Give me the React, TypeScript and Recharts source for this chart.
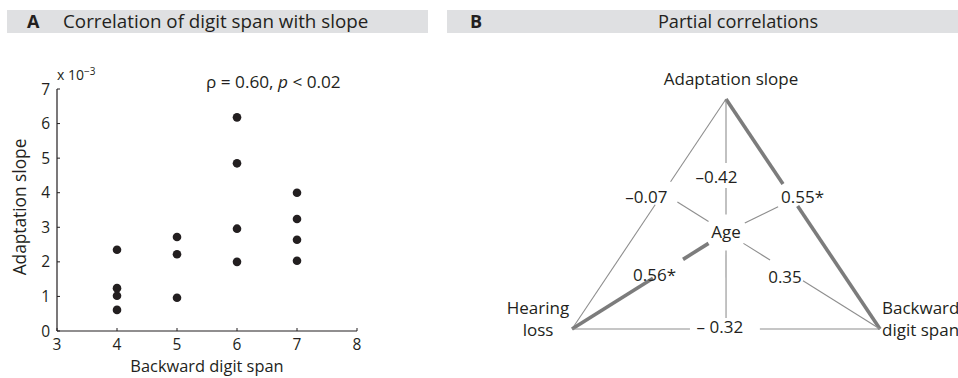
import React from 'react';
import { ScatterChart, Scatter, XAxis, YAxis, ReferenceLine, Label } from 'recharts';

const FONT = '"Open Sans", "Noto Sans", sans-serif';
const INK = '#231f20';
const BAND = '#dfe0e2';
const THIN_GREY = '#8e8e8e';
const THICK_GREY = '#7c7c7c';

// ---------- Panel A: backward digit span vs adaptation slope (x 10^-3) ----------
const spanValues = [4, 5, 6, 7];
const slopesAtSpan4 = [2.35, 1.24, 1.02, 0.61];
const slopesAtSpan5 = [2.72, 2.22, 0.96];
const slopesAtSpan6 = [6.18, 4.85, 2.96, 2.0];
const slopesAtSpan7 = [4.0, 3.24, 2.64, 2.03];
const spanTicks = [3, 4, 5, 6, 7, 8];
const slopeTicks = [0, 1, 2, 3, 4, 5, 6, 7];
const rhoText = '0.60';
const pBoundText = '0.02';

const slopeGroups = [slopesAtSpan4, slopesAtSpan5, slopesAtSpan6, slopesAtSpan7];
const scatterPoints = spanValues.flatMap((span, i) =>
  slopeGroups[i].map((slope) => ({ span, slope }))
);

// ---------- Panel B: partial correlations between four variables ----------
const variables = ['Adaptation slope', 'Hearing loss', 'Backward digit span', 'Age'];
const edgeFrom = [0, 0, 0, 3, 3, 1];
const edgeTo = [1, 2, 3, 1, 2, 2];
const partialR = [-0.07, 0.55, -0.42, 0.56, 0.35, -0.32];
const significant = [false, true, false, true, false, false];

// diagram layout (triangle units: x 0 = left corner, 1 = right corner; y 0 = base, 1 = apex)
const AGE = 3;
const nodeX = [0.5, 0, 1, 0.5];
const nodeY = [1, 0, 0, 0.42];
const CHART_B_W = 518;
const CHART_B_H = 378;
const TRI_LEFT = 132; // left corner, px from chart edge
const TRI_TOP = 99; // apex, px from chart top
const PLOT_W = 308; // triangle base width in px
const PLOT_H = 230; // triangle height in px
// label placement per edge: fraction along edge, pixel nudge, gap in the line, spoke from Age
const edgeLayout = [
  { t: 0.426, dx: -14, dy: 0, gap: [0.36, 0.46], spoke: [31, 5], spaced: false },
  { t: 0.426, dx: 11, dy: 0, gap: [0.37, 0.465], spoke: [-24.5, 9.7], spaced: false },
  { t: 0.585, dx: -9.5, dy: 0, gap: [0.48, 0.667], spoke: null, spaced: false },
  { t: 0.464, dx: 0, dy: -2, gap: [0.279, 0.474], spoke: null, spaced: false },
  { t: 0.383, dx: 0, dy: 7.6, gap: [0.286, 0.5], spoke: null, spaced: false },
  { t: 0.48, dx: 0, dy: -2, gap: [0.383, 0.61], spoke: [6.2, -9], spaced: true },
];
const nodeLabelLayout = [
  { dx: 5, dy: -20, anchor: 'middle', breakAt: 0 },
  { dx: -34, dy: -21, anchor: 'middle', breakAt: 1 },
  { dx: 2, dy: -21, anchor: 'start', breakAt: 1 },
  { dx: 0, dy: 0, anchor: 'middle', breakAt: 0 },
];
const AGE_RX = 22;
const AGE_RY = 18;

// axis domains that make the whole chart area one coordinate space
const xDomainB = [-TRI_LEFT / PLOT_W, (CHART_B_W - TRI_LEFT) / PLOT_W];
const yDomainB = [1 - (CHART_B_H - TRI_TOP) / PLOT_H, 1 + TRI_TOP / PLOT_H];

type P = { x: number; y: number };
const nodePx = (i: number): P => ({ x: nodeX[i] * PLOT_W, y: (1 - nodeY[i]) * PLOT_H });
const toData = (p: P) => ({ x: p.x / PLOT_W, y: 1 - p.y / PLOT_H });
const lerp = (a: P, b: P, t: number): P => ({ x: a.x + (b.x - a.x) * t, y: a.y + (b.y - a.y) * t });
const trimAtAge = (age: P, other: P): P => {
  const vx = other.x - age.x;
  const vy = other.y - age.y;
  const len = Math.hypot(vx, vy);
  const ux = vx / len;
  const uy = vy / len;
  const r = 1 / Math.sqrt((ux / AGE_RX) ** 2 + (uy / AGE_RY) ** 2);
  return { x: age.x + ux * r, y: age.y + uy * r };
};
const formatR = (r: number, sig: boolean, spaced: boolean) =>
  (r < 0 ? (spaced ? '\u2013 ' : '\u2013') : '') + Math.abs(r).toFixed(2) + (sig ? '*' : '');

const edgeLabelPx = (i: number): P => {
  const a = nodePx(edgeFrom[i]);
  const b = nodePx(edgeTo[i]);
  const p = lerp(a, b, edgeLayout[i].t);
  return { x: p.x + edgeLayout[i].dx, y: p.y + edgeLayout[i].dy };
};

type Seg = { from: P; to: P; thick: boolean };
const buildSegments = (): Seg[] => {
  const segs: Seg[] = [];
  partialR.forEach((_, i) => {
    const a = nodePx(edgeFrom[i]);
    const b = nodePx(edgeTo[i]);
    const start = edgeFrom[i] === AGE ? trimAtAge(a, b) : a;
    const end = edgeTo[i] === AGE ? trimAtAge(b, a) : b;
    const [g0, g1] = edgeLayout[i].gap;
    segs.push({ from: start, to: lerp(a, b, g0), thick: significant[i] });
    segs.push({ from: lerp(a, b, g1), to: end, thick: significant[i] });
    const spoke = edgeLayout[i].spoke;
    if (spoke) {
      const lp = edgeLabelPx(i);
      const tip = { x: lp.x + spoke[0], y: lp.y + spoke[1] };
      const age = nodePx(AGE);
      segs.push({ from: trimAtAge(age, tip), to: tip, thick: false });
    }
  });
  return segs;
};

const buildTextPoints = () => {
  const pts: any[] = [];
  variables.forEach((name, i) => {
    const n = nodePx(i);
    const lay = nodeLabelLayout[i];
    const words = name.split(' ');
    const lines = lay.breakAt
      ? [words.slice(0, lay.breakAt).join(' '), words.slice(lay.breakAt).join(' ')]
      : [name];
    pts.push({ ...toData({ x: n.x + lay.dx, y: n.y + lay.dy }), lines, anchor: lay.anchor });
  });
  partialR.forEach((r, i) => {
    const lp = edgeLabelPx(i);
    pts.push({
      ...toData(lp),
      lines: [formatR(r, significant[i], edgeLayout[i].spaced)],
      anchor: 'middle',
    });
  });
  return pts;
};

function DataDot(props: any) {
  const { cx, cy } = props;
  return <circle cx={cx} cy={cy} r={4.3} fill={INK} />;
}

function TextMark(props: any) {
  const { cx, cy, payload } = props;
  const lines: string[] = payload.lines;
  return (
    <text x={cx} y={cy} textAnchor={payload.anchor} fill={INK} fontSize={17} fontFamily={FONT}>
      {lines.map((ln, i) => (
        <tspan key={i} x={cx} y={cy + i * 22} dy="0.35em">
          {ln}
        </tspan>
      ))}
    </text>
  );
}

function CorrelationPanel() {
  const tickStyle = { fill: INK, fontSize: 15.5, fontFamily: FONT };
  return (
    <ScatterChart width={440} height={378} margin={{ top: 89, right: 83, bottom: 0, left: 0 }}>
      <XAxis
        type="number"
        dataKey="span"
        domain={[3, 8]}
        ticks={spanTicks}
        interval={0}
        height={47}
        tickSize={-3}
        tickMargin={11}
        tick={tickStyle}
        axisLine={{ stroke: INK, strokeWidth: 1.2 }}
        tickLine={{ stroke: INK }}
      >
        <Label
          value="Backward digit span"
          position="insideBottom"
          offset={6}
          style={{ fill: INK, fontSize: 16.4, fontFamily: FONT }}
        />
      </XAxis>
      <YAxis
        type="number"
        dataKey="slope"
        domain={[0, 7]}
        ticks={slopeTicks}
        interval={0}
        width={57}
        tickSize={-3}
        tickMargin={10}
        tick={tickStyle}
        axisLine={{ stroke: INK, strokeWidth: 1.2 }}
        tickLine={{ stroke: INK }}
      >
        <Label
          content={(p: any) => {
            const vb = p.viewBox;
            const cx = 19.5;
            const cy = vb.y + vb.height / 2 - 3;
            return (
              <text
                x={cx}
                y={cy}
                dy="0.35em"
                textAnchor="middle"
                transform={`rotate(-90, ${cx}, ${cy})`}
                fill={INK}
                fontSize={17.3}
                fontFamily={FONT}
              >
                Adaptation slope
              </text>
            );
          }}
        />
      </YAxis>
      <Scatter data={scatterPoints} isAnimationActive={false} shape={DataDot} />
      <text x={57} y={80} fill={INK} fontSize={14} fontFamily={FONT}>
        x 10
        <tspan dy={-5} fontSize={10}>
          {'\u22123'}
        </tspan>
      </text>
      <text x={206} y={88} fill={INK} fontSize={17.2} fontFamily={FONT}>
        {'\u03c1 = ' + rhoText + ', '}
        <tspan fontStyle="italic">p</tspan>
        {' < ' + pBoundText}
      </text>
    </ScatterChart>
  );
}

function PartialPanel() {
  const segs = buildSegments();
  const textPoints = buildTextPoints();
  return (
    <ScatterChart width={CHART_B_W} height={CHART_B_H} margin={{ top: 0, right: 0, bottom: 0, left: 0 }}>
      <XAxis type="number" dataKey="x" domain={xDomainB} hide allowDataOverflow />
      <YAxis type="number" dataKey="y" domain={yDomainB} hide allowDataOverflow />
      {segs.map((s, i) => (
        <ReferenceLine
          key={i}
          segment={[toData(s.from), toData(s.to)]}
          stroke={s.thick ? THICK_GREY : THIN_GREY}
          strokeWidth={s.thick ? 3.6 : 1.1}
          ifOverflow="visible"
        />
      ))}
      <Scatter data={textPoints} isAnimationActive={false} shape={TextMark} />
    </ScatterChart>
  );
}

function PanelHeader(props: {
  left: number;
  width: number;
  letter: string;
  letterX: number;
  title: string;
  titleX: number;
  titleSize: number;
  centered: boolean;
}) {
  const { left, width, letter, letterX, title, titleX, titleSize, centered } = props;
  return (
    <div
      style={{
        position: 'absolute',
        left,
        top: 10,
        width,
        height: 23,
        background: BAND,
        fontFamily: FONT,
        color: INK,
      }}
    >
      <span
        style={{
          position: 'absolute',
          left: letterX - left,
          top: 0,
          lineHeight: '23px',
          fontSize: 18,
          fontWeight: 700,
        }}
      >
        {letter}
      </span>
      <span
        style={{
          position: 'absolute',
          left: titleX - left,
          top: 0,
          lineHeight: '23px',
          fontSize: titleSize,
          whiteSpace: 'nowrap',
          transform: centered ? 'translateX(-50%)' : undefined,
        }}
      >
        {title}
      </span>
    </div>
  );
}

export default function App() {
  return (
    <div
      style={{
        position: 'absolute',
        left: 0,
        top: 0,
        width: 958,
        height: 378,
        background: '#ffffff',
        overflow: 'hidden',
      }}
    >
      <PanelHeader
        left={7}
        width={421}
        letter="A"
        letterX={27}
        title="Correlation of digit span with slope"
        titleX={63}
        titleSize={18.8}
        centered={false}
      />
      <PanelHeader
        left={447}
        width={511}
        letter="B"
        letterX={470}
        title="Partial correlations"
        titleX={738}
        titleSize={18.2}
        centered={true}
      />
      <div style={{ position: 'absolute', left: 0, top: 0 }}>
        <CorrelationPanel />
      </div>
      <div style={{ position: 'absolute', left: 440, top: 0 }}>
        <PartialPanel />
      </div>
    </div>
  );
}
